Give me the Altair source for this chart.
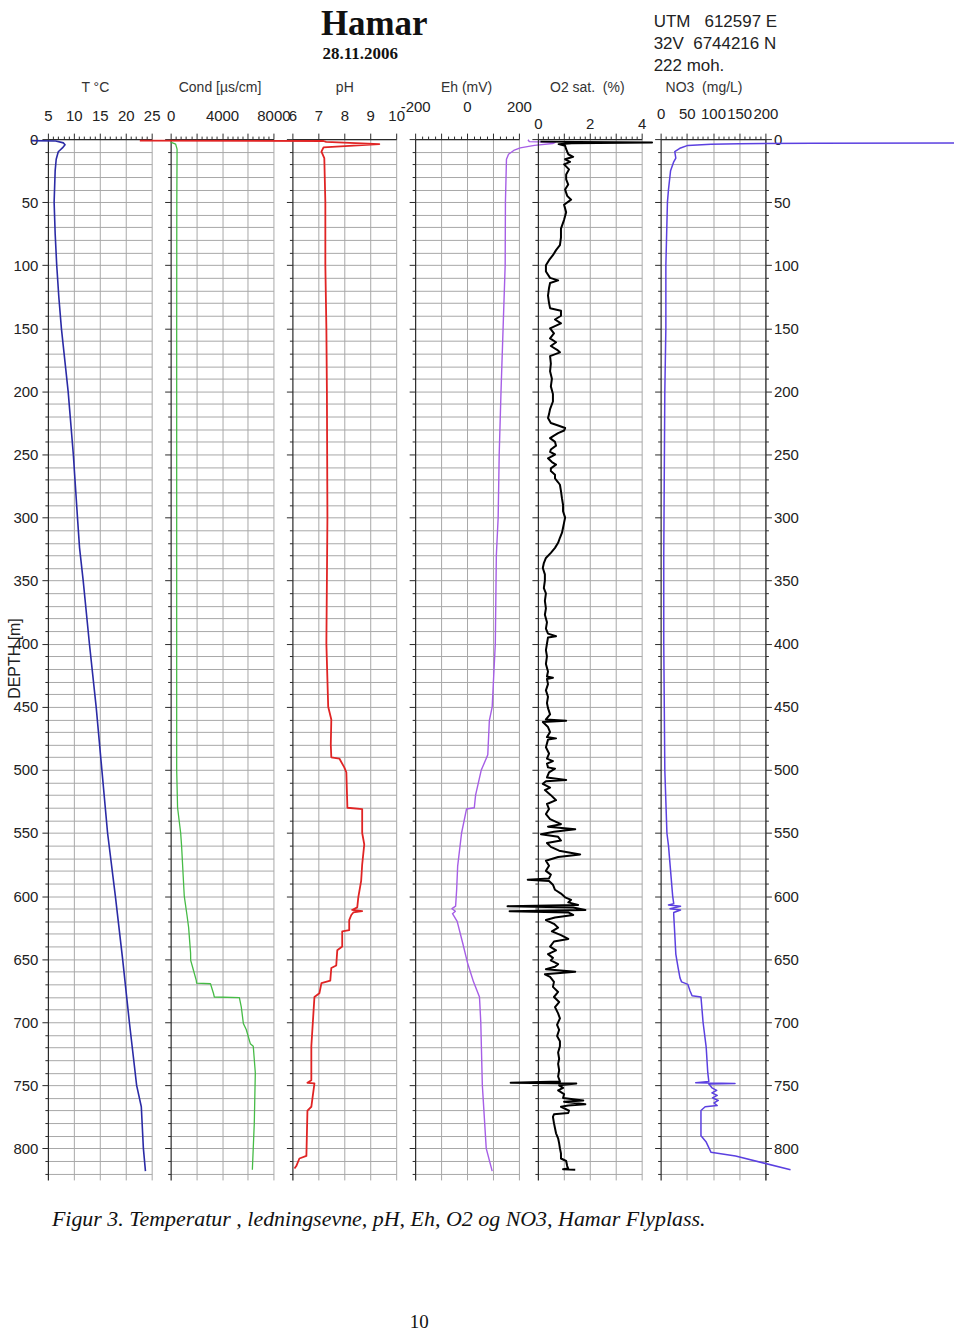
import altair as alt
import pandas as pd

# ---------------- data ----------------
T_depth = [1.2, 1.5, 3, 4.5, 7, 10, 16, 25, 50, 75,
           100, 125, 150, 200, 250, 300, 324, 350, 400, 450,
           500, 550, 600, 650, 700, 750, 767, 800, 818]
T_val = [1.9, 6.5, 8.0, 8.3, 7.8, 7.0, 6.6, 6.4, 6.2, 6.4,
         6.7, 7.1, 7.6, 8.9, 9.9, 10.7, 11.1, 11.8, 13.0, 14.3,
         15.4, 16.5, 18.0, 19.4, 20.7, 22.1, 23.0, 23.4, 23.8]

C_depth = [2.4, 4, 8, 50, 150, 300, 450, 500, 530, 550,
           560, 600, 615, 625, 645, 651, 656, 667, 669, 669.5,
           677, 680, 680.5, 688, 701, 706, 717, 719, 740, 780, 817]
C_val = [0, 390, 500, 480, 470, 470, 470, 470, 540, 780,
         850, 1060, 1270, 1400, 1550, 1560, 1700, 2000, 2020, 3100,
         3330, 3400, 5350, 5500, 5660, 5890, 6200, 6430, 6590, 6510, 6360]

P_depth = [1.2, 1.5, 2.2, 4.0, 6.5, 10, 15, 50, 100, 150,
           200, 300, 400, 450, 460, 480, 490, 491, 498, 502,
           530, 531, 550, 559, 575, 588, 601, 609, 611, 612,
           613, 615, 619, 627, 628, 640, 643, 655, 657, 667,
           669, 677, 680, 693, 719, 746, 748, 748.5, 767, 770,
           806, 808, 814, 816]
P_val = [0.12, 7.2, 7.3, 9.35, 7.2, 7.12, 7.23, 7.27, 7.27, 7.31,
         7.33, 7.35, 7.31, 7.38, 7.5, 7.48, 7.5, 7.81, 8.0, 8.08,
         8.12, 8.69, 8.69, 8.77, 8.69, 8.65, 8.54, 8.5, 8.3, 8.69,
         8.35, 8.27, 8.19, 8.19, 7.92, 7.92, 7.73, 7.69, 7.5, 7.46,
         7.12, 7.04, 6.85, 6.81, 6.73, 6.73, 6.58, 6.85, 6.73, 6.58,
         6.54, 6.27, 6.15, 6.08]

E_depth = [0.5, 2.0, 2.5, 3.5, 5, 7, 9, 12, 16, 50,
           100, 150, 200, 250, 300, 330, 400, 450, 461, 488,
           491, 500, 520, 530, 531, 550, 576, 595, 608, 610,
           612, 614, 620, 637, 653, 668, 680, 700, 750, 800, 818]
E_val = [235, 240, 340, 330, 260, 205, 180, 160, 152, 148,
         147, 139, 131, 124, 120, 113, 109, 97, 86, 80,
         74, 55, 33, 28, -2, -21, -36, -40, -44, -58,
         -45, -56, -38, -17, 2, 25, 48, 53, 59, 74, 97]

O2_depth = [
    2.0, 2.6, 3.2, 4.0, 5.3, 8, 12, 14, 16, 18,
    20, 24, 28, 32, 36, 40, 45, 48, 52, 58,
    64, 71, 78, 84, 88, 92, 96, 100, 105, 110,
    112, 114, 118, 124, 130, 134, 136, 140, 143, 146,
    150, 154, 158, 161, 164, 167, 169, 172, 178, 184,
    190, 196, 202, 208, 214, 218, 221, 225, 227, 229,
    231, 233, 235, 237, 240, 243, 246, 248, 250, 253,
    256, 258, 261, 263, 266, 269, 272, 274, 279, 285,
    290, 295, 300, 304, 308, 312, 316, 320, 324, 328,
    332, 336, 340, 345, 350, 356, 360, 366, 372, 377,
    383, 388, 392, 394, 395, 400, 405, 410, 416, 422,
    426, 427, 428, 432, 437, 442, 447, 451, 456, 460,
    461, 462, 466, 470, 474, 475, 476, 482, 487, 491,
    493, 495, 498, 499, 502, 506, 508, 509, 511, 514,
    516, 520, 524, 527, 531, 535, 539, 543, 545, 547,
    549, 551, 553, 556, 558, 561, 564, 567, 569, 572,
    576, 580, 583, 586, 587, 588, 591, 595, 598, 601,
    603, 605, 607, 608, 609, 611, 612, 613, 615, 617,
    619, 622, 625, 628, 631, 634, 636, 640, 643, 646,
    649, 651, 654, 656, 658, 660, 662, 664, 668, 672,
    676, 680, 684, 688, 693, 697, 702, 706, 711, 715,
    719, 724, 729, 733, 738, 743, 747, 748, 748.5, 750,
    752, 754, 757, 760, 762, 763, 765, 766, 767, 770,
    772, 773, 775, 780, 784, 788, 792, 796, 800, 804,
    808, 810, 814, 816, 816.5, 817]
O2_val = [
    0.10, 4.40, 1.30, 0.80, 1.05, 1.09, 1.17, 1.36, 1.05, 1.24,
    1.01, 1.20, 1.09, 1.09, 1.17, 1.05, 1.13, 1.28, 1.01, 1.09,
    1.01, 0.89, 0.89, 0.85, 0.70, 0.58, 0.43, 0.31, 0.31, 0.47,
    0.78, 0.47, 0.43, 0.39, 0.43, 0.47, 0.89, 0.89, 0.66, 0.89,
    0.47, 0.62, 0.47, 0.70, 0.50, 0.74, 0.85, 0.47, 0.50, 0.47,
    0.54, 0.50, 0.58, 0.58, 0.47, 0.43, 0.39, 0.50, 0.78, 1.05,
    1.01, 0.78, 0.62, 0.47, 0.66, 0.70, 0.50, 0.47, 0.66, 0.39,
    0.54, 0.70, 0.50, 0.50, 0.66, 0.66, 0.78, 0.85, 0.89, 0.93,
    0.97, 0.97, 1.05, 1.01, 0.97, 0.93, 0.85, 0.78, 0.66, 0.50,
    0.31, 0.23, 0.19, 0.27, 0.27, 0.23, 0.31, 0.27, 0.31, 0.27,
    0.35, 0.31, 0.39, 0.70, 0.39, 0.35, 0.31, 0.35, 0.31, 0.39,
    0.35, 0.58, 0.35, 0.39, 0.31, 0.39, 0.35, 0.39, 0.47, 0.31,
    1.09, 0.19, 0.39, 0.47, 0.35, 0.70, 0.39, 0.31, 0.43, 0.35,
    0.58, 0.35, 0.39, 0.66, 0.43, 0.35, 1.09, 0.31, 0.19, 0.47,
    0.27, 0.50, 0.70, 0.35, 0.43, 0.31, 0.47, 0.89, 0.39, 1.44,
    0.62, 0.12, 0.78, 0.89, 0.35, 0.50, 0.82, 1.63, 0.78, 0.31,
    0.43, 0.31, 0.50, 0.43, -0.39, 0.43, 0.58, 0.66, 0.89, 1.05,
    1.28, 1.17, 1.55, -1.17, 1.36, 1.83, -1.09, 1.17, 1.36, 0.66,
    0.31, 0.62, 0.78, 0.54, 0.89, 1.17, 0.62, 0.47, 0.70, 0.39,
    0.58, 0.50, 0.78, 0.66, 0.31, 1.44, 0.27, 0.47, 0.62, 0.58,
    0.78, 0.62, 0.82, 0.66, 0.78, 0.85, 0.74, 0.82, 0.74, 0.85,
    0.85, 0.78, 0.82, 0.78, 0.82, 0.78, 0.85, -1.05, 1.48, 0.82,
    0.97, 0.78, 1.01, 0.97, 1.75, 1.01, 1.83, 1.17, 0.89, 1.20,
    1.17, 0.62, 0.58, 0.62, 0.66, 0.70, 0.78, 0.82, 0.85, 0.89,
    0.89, 1.09, 1.13, 1.17, 0.97, 1.44]

N_depth = [3.0, 3.3, 3.6, 4.0, 5, 7, 10, 15, 18, 25,
           40, 50, 100, 150, 200, 330, 400, 500, 550, 560,
           600, 606, 607, 608, 610, 611, 613, 615, 630, 646,
           656, 665, 668, 670, 675, 679, 680, 700, 720, 740,
           747, 748, 748.5, 749, 752, 754, 756, 758, 760, 762,
           764, 766, 767, 770, 790, 795, 803, 806, 817]
N_val = [560, 290, 150, 96, 52, 38, 27, 29, 25, 19,
         15, 13, 10, 10, 8, 6, 6, 8, 12, 15,
         23, 25, 15, 38, 18, 38, 25, 25, 27, 29,
         33, 37, 40, 52, 56, 60, 77, 81, 87, 90,
         92, 67, 142, 92, 98, 107, 98, 108, 99, 110,
         102, 108, 85, 77, 77, 87, 96, 143, 248]

TITLE = "Hamar"
DATE = "28.11.2006"
UTM = "UTM\u00a0\u00a0\u00a0612597 E\n32V\u00a0\u00a06744216 N\n222 moh."
CAPTION = "Figur 3. Temperatur , ledningsevne, pH, Eh, O2 og NO3, Hamar Flyplass."
PAGE = "10"

# ---------------- styling ----------------
Y_MAX = 825
PLOT_H = 1043
GRID = "#a8a8a8"
DARK = "#2a2a2a"
SANS = "Liberation Sans"
SERIF = "Liberation Serif"


def steps(lo, hi, step):
    n = int(round((hi - lo) / step))
    return [round(lo + k * step, 6) for k in range(n + 1)]


def match_any(vals):
    return " || ".join(f"abs(datum.value - ({v})) < 1e-6" for v in vals)


def label_expr(vals, texts):
    expr = "''"
    for v, t in zip(reversed(vals), reversed(texts)):
        expr = f"(abs(datum.value - ({v})) < 1e-6) ? '{t}' : {expr}"
    return expr


DEPTH_TICKS = list(range(0, 821, 10))
DEPTH_MAJOR = "datum.value % 50 === 0"


def y_axis(first, orient="left", grid=True):
    kw = dict(
        orient=orient, values=DEPTH_TICKS, grid=grid, gridColor=GRID, gridWidth=1,
        domainColor=DARK, domainWidth=1.2, tickColor=DARK, tickWidth=1,
        tickSize={"condition": {"test": DEPTH_MAJOR, "value": 6}, "value": 3},
        labelExpr=f"{DEPTH_MAJOR} ? datum.label : ''",
        labelFont=SANS, labelFontSize=15, labelColor="#222", labelOverlap=False,
        labelPadding=4 if orient == "left" else 2,
        labels=first or orient == "right",
        title="",
    )
    if first:
        kw.update(title="DEPTH [m]", titleX=-33, titleY=520, titleAlign="center",
                  titleBaseline="middle", titleFont=SANS, titleFontSize=16,
                  titleFontWeight="normal", titleColor="#222")
    return alt.Axis(**kw)


def x_axis(p):
    major = p["labels"] + p["grid"]
    return alt.Axis(
        orient="top", values=steps(p["lo"], p["hi"], p["minor"]), title=p["title"],
        labelExpr=label_expr(p["labels"], p["ltext"]), labelOverlap=False, labelFlush=False,
        labelPadding=p["lpad"], labelFont=SANS, labelFontSize=15, labelColor="#222",
        tickSize={"condition": {"test": match_any(major), "value": 6}, "value": 3},
        tickColor=DARK, tickWidth=1,
        grid=True, gridColor=GRID, gridWidth=1,
        gridOpacity={"condition": {"test": match_any(p["grid"]), "value": 1}, "value": 0},
        domainColor=DARK, domainWidth=1.2,
        titleX=p["tx"], titleY=-52, titleAlign="center", titleBaseline="middle",
        titleFont=SANS, titleFontSize=14, titleFontWeight="normal", titleColor="#333",
    )


panels = [
    dict(depth=T_depth, value=T_val, color="#2b2ba6", sw=1.6, width=104, title="T  \u00b0C",
         lo=5, hi=25, minor=1, labels=[5, 10, 15, 20, 25], ltext=["5", "10", "15", "20", "25"],
         grid=[10, 15, 20, 25], lpad=10, tx=47),
    dict(depth=C_depth, value=C_val, color="#46bb46", sw=1.3, width=103, title="Cond [\u00b5s/cm]",
         lo=0, hi=8000, minor=400, labels=[0, 4000, 8000], ltext=["0", "4000", "8000"],
         grid=[2000, 4000, 6000, 8000], lpad=10, tx=49),
    dict(depth=P_depth, value=P_val, color="#e02424", sw=1.8, width=104, title="pH",
         lo=6, hi=10, minor=1, labels=[6, 7, 8, 9, 10], ltext=["6", "7", "8", "9", "10"],
         grid=[7, 8, 9, 10], lpad=10, tx=52),
    dict(depth=E_depth, value=E_val, color="#a65ee6", sw=1.4, width=104, title="Eh (mV)",
         lo=-200, hi=200, minor=25, labels=[-200, 0, 200], ltext=["-200", "0", "200"],
         grid=[-100, 0, 100, 200], lpad=19, tx=51),
    dict(depth=O2_depth, value=O2_val, color="#000000", sw=2.0, width=104,
         title="O2 sat.\u00a0\u00a0(%)",
         lo=0, hi=4, minor=0.2, labels=[0, 2, 4], ltext=["0", "2", "4"],
         grid=[1, 2, 3, 4], lpad=2, tx=49),
    dict(depth=N_depth, value=N_val, color="#5b40e0", sw=1.5, width=105,
         title="NO3\u00a0\u00a0(mg/L)",
         lo=0, hi=200, minor=10, labels=[0, 50, 100, 150, 200],
         ltext=["0", "50", "100", "150", "200"],
         grid=[50, 100, 150, 200], lpad=12, tx=43),
]


def text_layer(txt, x, y, **mk):
    return alt.Chart(pd.DataFrame({"t": [txt]})).mark_text(**mk).encode(
        text="t:N", x=alt.value(x), y=alt.value(y))


charts = []
for i, p in enumerate(panels):
    df = pd.DataFrame({"depth": p["depth"], "value": p["value"]})
    df["k"] = range(len(df))
    xs = alt.Scale(domain=[p["lo"], p["hi"]], nice=False, zero=False)
    ys = alt.Scale(domain=[0, Y_MAX], nice=False, zero=False, reverse=True)
    base = alt.Chart(df).encode(
        x=alt.X("value:Q", scale=xs, axis=x_axis(p)),
        order=alt.Order("k:Q"),
    )
    line = base.mark_line(color=p["color"], strokeWidth=p["sw"], strokeJoin="round").encode(
        y=alt.Y("depth:Q", scale=ys, axis=y_axis(i == 0)))
    layers = [line]
    if i == 0:
        layers += [
            text_layer(TITLE, 327, -115, font=SERIF, fontSize=35, fontWeight="bold",
                       align="center", baseline="middle", color="#111"),
            text_layer(DATE, 313, -85, font=SERIF, fontSize=17, fontWeight="bold",
                       align="center", baseline="middle", color="#111"),
            text_layer(UTM, 607, -125, font=SANS, fontSize=17, align="left", baseline="top",
                       lineBreak="\n", lineHeight=22, color="#222"),
            text_layer(CAPTION, 4, 1082, font=SERIF, fontSize=22, fontStyle="italic",
                       align="left", baseline="middle", color="#111"),
            text_layer(PAGE, 372, 1185, font=SERIF, fontSize=19, align="center",
                       baseline="middle", color="#111"),
        ]
        ch = alt.layer(*layers)
    elif i == len(panels) - 1:
        ghost = base.mark_line(opacity=0).encode(
            y=alt.Y("depth:Q", scale=ys, axis=y_axis(False, orient="right", grid=False)))
        ch = alt.layer(line, ghost).resolve_axis(y="independent")
    else:
        ch = alt.layer(*layers)
    charts.append(ch.properties(width=p["width"], height=PLOT_H))

chart = alt.hconcat(*charts, spacing=19, bounds="flush").properties(
    padding={"left": 7, "top": 6, "right": 5, "bottom": 5},
    background="white",
).configure_view(strokeOpacity=0)

chart.save("out.html", embed_options={"renderer": "svg", "actions": False})
